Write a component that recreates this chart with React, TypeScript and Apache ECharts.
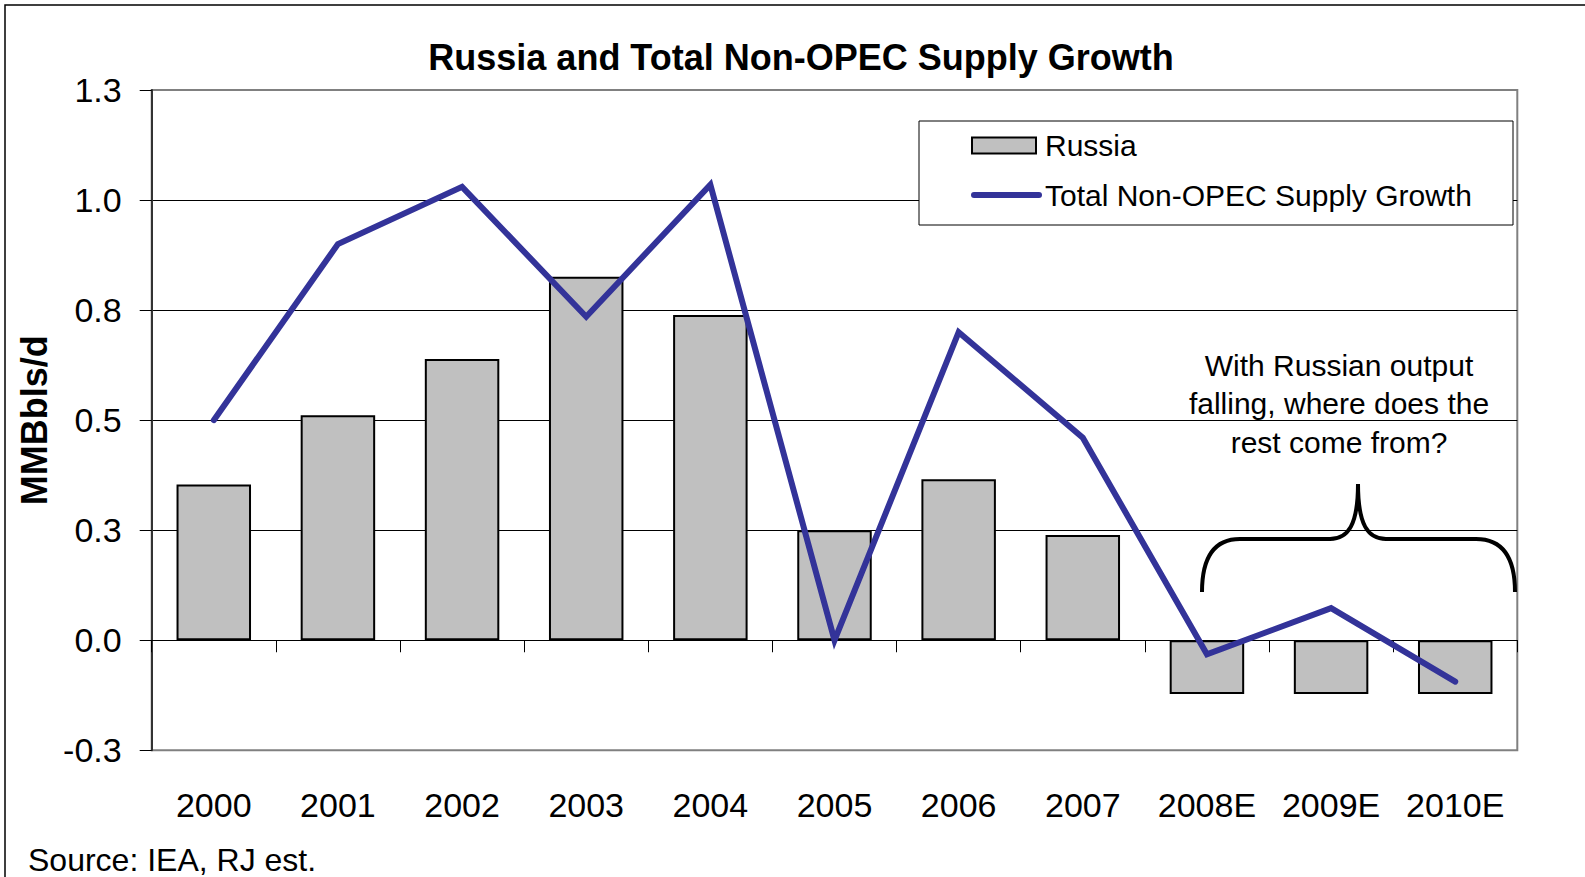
import React, { useEffect, useRef } from "react";
import * as echarts from "echarts";

const categories = ["2000", "2001", "2002", "2003", "2004", "2005", "2006", "2007", "2008E", "2009E", "2010E"];
const russia = [0.354, 0.511, 0.639, 0.826, 0.739, 0.25, 0.366, 0.239, -0.122, -0.122, -0.122];
const totalNonOpec = [0.5, 0.9, 1.03, 0.735, 1.035, 0, 0.7, 0.46, -0.032, 0.073, -0.094];
const yMin = -0.25;
const yMax = 1.25;
const yStep = 0.25;
const titleText = "Russia and Total Non-OPEC Supply Growth";
const yAxisName = "MMBbls/d";
const seriesNames = ["Russia", "Total Non-OPEC Supply Growth"];
const annotationLines = ["With Russian output", "falling, where does the", "rest come from?"];
const sourceText = "Source: IEA, RJ est.";

const FONT = "'Liberation Sans', Arial, Helvetica, sans-serif";
const BAR_FILL = "#C0C0C0";
const LINE_COLOR = "#333399";

const braceD =
  "M1202 592 C1202 560 1212 539 1240 539 L1330 539 C1348 539 1358 525 1358 484 " +
  "C1358 525 1368 539 1386 539 L1476 539 C1504 539 1515 560 1515 592";

let braceRegistered = false;

export default function App() {
  const ref = useRef<HTMLDivElement>(null);

  useEffect(() => {
    if (!ref.current) return;
    if (!braceRegistered) {
      echarts.graphic.registerShape("brace", echarts.graphic.extendPath(braceD, {}));
      braceRegistered = true;
    }
    const chart = echarts.init(ref.current, undefined, { renderer: "svg" });
    chart.setOption({
      animation: false,
      backgroundColor: "#ffffff",
      title: {
        text: titleText,
        left: 796,
        top: 34,
        textAlign: "center",
        textStyle: { fontFamily: FONT, fontSize: 36, fontWeight: "bold", color: "#000" },
      },
      grid: {
        left: 151.7,
        right: 67.7,
        top: 90,
        bottom: 126.7,
        containLabel: false,
        outerBoundsMode: "none",
        show: true,
        borderColor: "#808080",
        borderWidth: 2,
        backgroundColor: "transparent",
      },
      xAxis: {
        type: "category",
        data: categories,
        boundaryGap: true,
        axisLine: { onZero: true, lineStyle: { color: "#000", width: 1 } },
        axisTick: { show: true, interval: 0, length: 12, inside: false, lineStyle: { color: "#000", width: 1 } },
        axisLabel: { interval: 0, margin: 38, fontFamily: FONT, fontSize: 34, color: "#000" },
        splitLine: { show: false },
      },
      yAxis: {
        type: "value",
        min: yMin,
        max: yMax,
        interval: yStep,
        name: yAxisName,
        nameLocation: "middle",
        nameRotate: 90,
        nameGap: 99,
        nameTextStyle: { fontFamily: FONT, fontSize: 36, fontWeight: "bold", color: "#000" },
        axisLine: { show: true, lineStyle: { color: "#333", width: 2 } },
        axisTick: { show: true, length: 12, inside: false, lineStyle: { color: "#000", width: 1 } },
        axisLabel: {
          margin: 30,
          fontFamily: FONT,
          fontSize: 34,
          color: "#000",
          formatter: (v: number) => v.toFixed(1),
        },
        splitLine: { show: true, showMinLine: false, showMaxLine: false, lineStyle: { color: "#000", width: 1 } },
      },
      series: [
        {
          name: seriesNames[0],
          type: "bar",
          data: russia,
          barCategoryGap: "40%",
          itemStyle: { color: BAR_FILL, borderColor: "#000", borderWidth: 2 },
          z: 2,
        },
        {
          name: seriesNames[1],
          type: "line",
          data: totalNonOpec,
          symbol: "none",
          showSymbol: false,
          lineStyle: { color: LINE_COLOR, width: 6, cap: "round", join: "miter" },
          itemStyle: { color: LINE_COLOR },
          z: 3,
        },
      ],
      graphic: [
        {
          type: "rect",
          z: 0,
          silent: true,
          shape: { x: 5, y: 5, width: 1620, height: 920 },
          style: { fill: "none", stroke: "#000", lineWidth: 1.5 },
        },
        {
          type: "rect",
          z: 4,
          silent: true,
          shape: { x: 919, y: 121, width: 594, height: 104 },
          style: { fill: "#fff", stroke: "#000", lineWidth: 1 },
        },
        {
          type: "rect",
          z: 5,
          silent: true,
          shape: { x: 972, y: 137.5, width: 64, height: 16 },
          style: { fill: BAR_FILL, stroke: "#000", lineWidth: 2 },
        },
        {
          type: "line",
          z: 5,
          silent: true,
          shape: { x1: 974, y1: 195, x2: 1039, y2: 195 },
          style: { stroke: LINE_COLOR, lineWidth: 6, lineCap: "round" },
        },
        {
          type: "text",
          z: 5,
          silent: true,
          x: 1045,
          y: 145,
          style: {
            text: seriesNames[0],
            fontFamily: FONT,
            fontSize: 30,
            fill: "#000",
            textAlign: "left",
            textVerticalAlign: "middle",
          },
        },
        {
          type: "text",
          z: 5,
          silent: true,
          x: 1045,
          y: 195,
          style: {
            text: seriesNames[1],
            fontFamily: FONT,
            fontSize: 30,
            fill: "#000",
            textAlign: "left",
            textVerticalAlign: "middle",
          },
        },
        ...annotationLines.map((t, i) => ({
          type: "text",
          z: 4,
          silent: true,
          x: 1339,
          y: 365 + i * 38.5,
          style: {
            text: t,
            fontFamily: FONT,
            fontSize: 30,
            fill: "#000",
            textAlign: "center",
            textVerticalAlign: "middle",
          },
        })),
        {
          type: "brace",
          z: 4,
          silent: true,
          x: 0,
          y: 0,
          style: { fill: "none", stroke: "#000", lineWidth: 4 },
        },
        {
          type: "text",
          z: 4,
          silent: true,
          x: 28,
          y: 860,
          style: {
            text: sourceText,
            fontFamily: FONT,
            fontSize: 32,
            fill: "#000",
            textAlign: "left",
            textVerticalAlign: "middle",
          },
        },
      ],
    });
    return () => chart.dispose();
  }, []);

  return (
    <div
      ref={ref}
      style={{ position: "absolute", left: 0, top: 0, width: 1585, height: 877, background: "#fff" }}
    />
  );
}
